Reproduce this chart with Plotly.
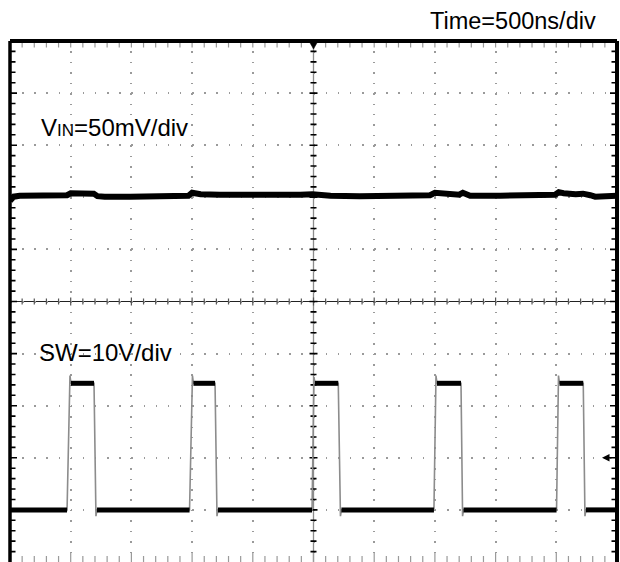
import plotly.graph_objects as go

# ---------------- data (read from the scope capture) ----------------
TIME_PER_DIV_NS = 500
N_XDIV = 10
N_YDIV = 10

# VIN ripple trace (AC view): time in ns, deviation in mV
VIN_T_NS = [0, 30, 80, 250, 410, 470, 500, 580, 690, 720, 780, 990, 1240, 1470,
            1500, 1520, 1570, 1730, 1980, 2230, 2390, 2490, 2520, 2640, 2880, 3210,
            3460, 3500, 3530, 3590, 3700, 3730, 3790, 4040, 4370, 4490, 4520, 4560,
            4660, 4720, 4780, 4820, 5000]
VIN_MV = [-5.8, -1.9, -1.0, -1.0, -0.5, -0.5, 1.4, 1.0, 1.0, -1.4, -1.9, -1.9, -1.4, -1.0,
          1.9, 1.4, 0.5, 0.0, -0.5, -0.5, 0.0, 0.5, 0.0, -1.0, -1.4, -1.0,
          -0.5, 1.9, 1.4, 0.5, 0.0, 1.9, -1.0, -1.0, -1.0, 0.0, 2.4, 1.4,
          0.5, 1.0, -0.5, -1.9, -1.0]
VIN_MV_PER_DIV = 50
VIN_OFFSET_DIV = 2.05

# SW node trace: time in ns, volts
SW_T_NS = [0,
           470, 494, 502, 692, 708, 716,
           1479, 1503, 1511, 1689, 1705, 1713,
           2488, 2504, 2512, 2704, 2722, 2730,
           3492, 3509, 3517, 3715, 3728, 3736,
           4502, 4518, 4526, 4722, 4736, 4744,
           5000]
SW_V = [0.0,
        0.0, 25.8, 24.3, 24.3, -1.2, 0.0,
        0.0, 25.8, 24.3, 24.3, -1.2, 0.0,
        0.0, 25.5, 24.3, 24.3, -1.2, 0.0,
        0.0, 25.8, 24.3, 24.3, -1.2, 0.0,
        0.0, 25.8, 24.3, 24.3, -1.2, 0.0,
        0.0]
SW_V_PER_DIV = 10
SW_OFFSET_DIV = -4.0
TRIG_LEVEL_V = 10

VIN_LABEL = "V<span style='font-size:17px'>IN</span>=50mV/div"
SW_LABEL = "SW=10V/div"
TIME_LABEL = "Time=500ns/div"

# ---------------- geometry helpers ----------------
W, H = 620, 562
ML, MR, MT, MB = 10, 3, 41, 0
PW, PH = W - ML - MR, H - MT - MB
X_MAX = TIME_PER_DIV_NS * N_XDIV
Y_HALF = N_YDIV / 2
PX_X = X_MAX / PW          # ns per pixel
PX_Y = N_YDIV / PH         # div per pixel
FONT = "Liberation Sans, Arial, Helvetica, sans-serif"

vin_y = [VIN_OFFSET_DIV + v / VIN_MV_PER_DIV for v in VIN_MV]
sw_y = [SW_OFFSET_DIV + v / SW_V_PER_DIV for v in SW_V]

# plateau-only copy of SW (fast edges are drawn faint on a scope)
thick_x, thick_y = [], []
for i, (t, v) in enumerate(zip(SW_T_NS, SW_V)):
    if i > 0 and abs(v - SW_V[i - 1]) > 1.0:
        thick_x.append(None)
        thick_y.append(None)
    thick_x.append(t)
    thick_y.append(SW_OFFSET_DIV + v / SW_V_PER_DIV)

fig = go.Figure()
fig.add_trace(go.Scatter(x=VIN_T_NS, y=vin_y, mode="lines",
                         line=dict(color="black", width=6), hoverinfo="skip",
                         showlegend=False))
fig.add_trace(go.Scatter(x=SW_T_NS, y=sw_y, mode="lines",
                         line=dict(color="#8c8c8c", width=1.6), hoverinfo="skip",
                         showlegend=False))
fig.add_trace(go.Scatter(x=thick_x, y=thick_y, mode="lines",
                         line=dict(color="black", width=5), hoverinfo="skip",
                         showlegend=False, connectgaps=False))

# ---------------- tick marks (graticule) ----------------
xstep = TIME_PER_DIV_NS / 5
ystep = 1 / 5
top_p, bot_p, ch_p = [], [], []
for k in range(1, N_XDIV * 5):
    x = k * xstep
    major = (k % 5 == 0)
    top_p.append(f"M{x},{Y_HALF} L{x},{Y_HALF - 6.5 * PX_Y}")
    blen = 10 if major else 6
    bot_p.append(f"M{x},{-Y_HALF} L{x},{-Y_HALF + blen * PX_Y}")
    hl = 4 if major else 3
    ch_p.append(f"M{x},{-hl * PX_Y} L{x},{hl * PX_Y}")
left_p, right_p, cv_p = [], [], []
for k in range(1, N_YDIV * 5):
    y = -Y_HALF + k * ystep
    major = (k % 5 == 0)
    ll = 7 if major else 5.5
    left_p.append(f"M0,{y} L{ll * PX_X},{y}")
    right_p.append(f"M{X_MAX},{y} L{X_MAX - ll * PX_X},{y}")
    cl = 4 if major else 3
    cv_p.append(f"M{X_MAX / 2 - cl * PX_X},{y} L{X_MAX / 2 + cl * PX_X},{y}")

shapes = []
# center lines
shapes.append(dict(type="line", xref="x", yref="paper", x0=X_MAX / 2, x1=X_MAX / 2,
                   y0=0, y1=1, line=dict(color="#8c8c8c", width=1.3), layer="between"))
shapes.append(dict(type="line", xref="paper", yref="y", x0=0, x1=1, y0=0, y1=0,
                   line=dict(color="#222222", width=1.2), layer="between"))
for paths, col, wd in [(top_p, "#9a9a9a", 1.2), (bot_p, "#9a9a9a", 1.2),
                       (ch_p, "#555555", 1.2), (left_p, "black", 1.6),
                       (right_p, "black", 1.6), (cv_p, "black", 1.6)]:
    shapes.append(dict(type="path", xref="x", yref="y", path=" ".join(paths),
                       line=dict(color=col, width=wd), layer="between"))
# borders (top, left, right)
shapes.append(dict(type="line", xref="paper", yref="paper", x0=0, x1=1, y0=1, y1=1,
                   line=dict(color="black", width=4), layer="above"))
shapes.append(dict(type="line", xref="paper", yref="paper", x0=0, x1=0, y0=0, y1=1,
                   line=dict(color="black", width=3.5), layer="above"))
shapes.append(dict(type="line", xref="paper", yref="paper", x0=1, x1=1, y0=0, y1=1,
                   line=dict(color="black", width=4), layer="above"))
# trigger position marker at the top centre
shapes.append(dict(type="path", xref="x", yref="y", xsizemode="pixel", ysizemode="pixel",
                   xanchor=X_MAX / 2, yanchor=Y_HALF,
                   path="M-4,-1 L4,-1 L0,-8 Z", fillcolor="black",
                   line=dict(color="black", width=0.5), layer="above"))

annotations = [
    dict(text=VIN_LABEL, xref="paper", yref="paper", x=31 / PW, y=1 - (128 - MT) / PH,
         xanchor="left", yanchor="middle", showarrow=False, borderpad=0, borderwidth=0,
         font=dict(family=FONT, size=24, color="black")),
    dict(text=SW_LABEL, xref="paper", yref="paper", x=29 / PW, y=1 - (352 - MT) / PH,
         xanchor="left", yanchor="middle", showarrow=False, borderpad=0, borderwidth=0,
         font=dict(family=FONT, size=24, color="black")),
    dict(text=TIME_LABEL, xref="paper", yref="paper", x=(596 - ML) / PW, y=1 + (MT - 21) / PH,
         xanchor="right", yanchor="middle", showarrow=False, borderpad=0, borderwidth=0,
         font=dict(family=FONT, size=23.5, color="black")),
    # trigger level arrow on the right edge
    dict(text="", xref="paper", yref="y", x=(602 - ML) / PW,
         y=SW_OFFSET_DIV + TRIG_LEVEL_V / SW_V_PER_DIV,
         showarrow=True, ax=11, ay=0, arrowhead=2, arrowsize=1, arrowwidth=1.5,
         arrowcolor="black", standoff=0),
]

fig.update_layout(
    width=W, height=H, autosize=False,
    margin=dict(l=ML, r=MR, t=MT, b=MB, pad=0),
    paper_bgcolor="white", plot_bgcolor="white",
    showlegend=False,
    xaxis=dict(range=[0, X_MAX], showgrid=True, dtick=TIME_PER_DIV_NS, tick0=0,
               gridcolor="#9a9a9a", gridwidth=1.5,
               griddash=f"1.5px,{PH / N_YDIV / 5 - 1.5:.2f}px",
               zeroline=False, showticklabels=False, ticks="", showline=False,
               fixedrange=True),
    yaxis=dict(range=[-Y_HALF, Y_HALF], showgrid=True, dtick=1, tick0=0,
               gridcolor="#9a9a9a", gridwidth=1.5,
               griddash=f"1.5px,{PW / N_XDIV / 5 - 1.5:.2f}px",
               zeroline=False, showticklabels=False, ticks="", showline=False,
               fixedrange=True),
    shapes=shapes,
    annotations=annotations,
)

fig.write_html("out.html", config={"displayModeBar": False},
               post_script="document.body.style.margin='0';"
                           "document.body.style.overflow='hidden';")
